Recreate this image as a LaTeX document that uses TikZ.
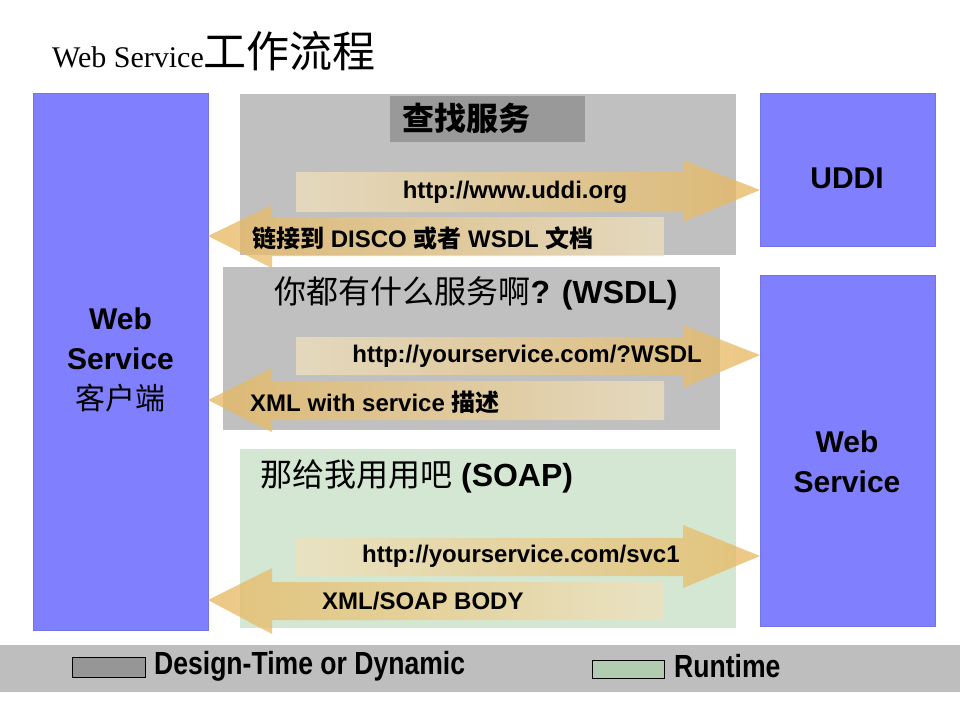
\documentclass[tikz,border=0pt]{standalone}
\usepackage{fontspec}
\setmainfont{Liberation Sans}
\newfontfamily\cjk{Noto Sans CJK SC}
\newfontfamily\titleserif{Liberation Serif}
\definecolor{boxblue}{RGB}{128,128,255}
\definecolor{panelgray}{RGB}{192,192,192}
\definecolor{darkgray}{RGB}{153,153,153}
\definecolor{panelgreen}{RGB}{212,231,210}
\definecolor{bandgray}{RGB}{190,190,190}
\definecolor{leggray}{RGB}{150,150,150}
\definecolor{leggreen}{RGB}{178,204,178}
\definecolor{gold}{RGB}{230,182,92}
\definecolor{paletan}{RGB}{240,225,190}
\begin{document}
\begin{tikzpicture}[x=1pt,y=-1pt,
  bluebox/.style={fill=boxblue, draw=boxblue!90!black, line width=0.5pt, anchor=north west, inner sep=0},
  panel/.style={anchor=north west, inner sep=0},
  big/.style={font=\bfseries\fontsize{30}{40}\selectfont, align=center, inner sep=0},
  lbl/.style={font=\bfseries\fontsize{24}{27}\selectfont, inner sep=0},
  head/.style={font=\bfseries\fontsize{32}{36}\selectfont, inner sep=0},
  rarrow/.style={left color=paletan, right color=gold, fill opacity=0.75},
  larrow/.style={left color=gold, right color=paletan, fill opacity=0.75},
  legtext/.style={font=\bfseries\fontsize{32}{34}\selectfont, inner sep=0, anchor=west, xscale=0.83}
]
\useasboundingbox (0,0) rectangle (960,706);
\fill[white] (0,0) rectangle (960,706);

% title
\node[anchor=base west, inner sep=0] (title) at (52,68)
  {{\titleserif\fontsize{30}{34}\selectfont Web Service}{\cjk\fontsize{43}{48}\selectfont 工作流程}};

% panels
\node[panel, fill=panelgray, minimum width=496pt, minimum height=161pt] (p1) at (240,94) {};
\node[panel, fill=panelgray, minimum width=497pt, minimum height=163pt] (p2) at (223,267) {};
\node[panel, fill=panelgreen, minimum width=496pt, minimum height=179pt] (p3) at (240,449) {};
\node[panel, fill=darkgray, minimum width=195pt, minimum height=46pt] (t1) at (390,96) {};

% blue boxes
\node[bluebox, minimum width=175pt, minimum height=537pt] (client) at (33,93) {};
\node[bluebox, minimum width=175pt, minimum height=153pt] (uddi) at (760,93) {};
\node[bluebox, minimum width=175pt, minimum height=351pt] (ws) at (760,275) {};

% arrows section 1
\shade[rarrow] (296,172) -- (683,172) -- (683,160) -- (760,190) -- (683,222) -- (683,212) -- (296,212) -- cycle;
\shade[larrow] (208,236) -- (272,205) -- (272,217) -- (664,217) -- (664,256) -- (272,256) -- (272,268) -- cycle;
% section 2
\shade[rarrow] (296,337) -- (683,337) -- (683,325) -- (760,355) -- (683,388) -- (683,375) -- (296,375) -- cycle;
\shade[larrow] (208,400) -- (272,368) -- (272,381) -- (664,381) -- (664,420) -- (272,420) -- (272,432) -- cycle;
% section 3
\shade[rarrow] (296,538) -- (683,538) -- (683,525) -- (760,556) -- (683,588) -- (683,576) -- (296,576) -- cycle;
\shade[larrow] (208,600) -- (272,568) -- (272,582) -- (664,582) -- (664,620) -- (272,620) -- (272,634) -- cycle;

% box texts
\node[big] (clientT) at (120.5,360) {Web\\Service\\{\cjk\mdseries 客户端}};
\node[big] (uddiT) at (847,178) {UDDI};
\node[big] (wsT) at (847,462) {Web\\Service};

% panel texts
\node[inner sep=0, font=\cjk\bfseries\fontsize{32}{36}\selectfont] (t1T) at (466,118) {查找服务};
\node[head] (p2T) at (476,293) {{\cjk\mdseries 你都有什么服务啊}? (WSDL)};
\node[head, anchor=west] (p3T) at (260,476) {{\cjk\mdseries 那给我用用吧} (SOAP)};

% arrow labels
\node[lbl] (a1) at (515,192) {http://www.uddi.org};
\node[lbl, anchor=west] (a2) at (252,238) {{\cjk 链接到} DISCO {\cjk 或者} WSDL {\cjk 文档}};
\node[lbl, anchor=east] (a3) at (702,356) {http://yourservice.com/?WSDL};
\node[lbl, anchor=west] (a4) at (250,402) {XML with service {\cjk 描述}};
\node[lbl, anchor=west] (a5) at (362,556) {http://yourservice.com/svc1};
\node[lbl, anchor=west] (a6) at (322,601) {XML/SOAP BODY};

% legend
\node[panel, fill=bandgray, minimum width=960pt, minimum height=47pt] (band) at (0,645) {};
\node[panel, fill=leggray, draw=black, line width=0.6pt, minimum width=73pt, minimum height=20pt] (lg1) at (72,657) {};
\node[legtext] (lg1T) at (154,666) {Design-Time or Dynamic};
\node[panel, fill=leggreen, draw=black, line width=0.6pt, minimum width=72pt, minimum height=18pt] (lg2) at (592,660) {};
\node[legtext] (lg2T) at (674,666) {Runtime};
\end{tikzpicture}
\end{document}
